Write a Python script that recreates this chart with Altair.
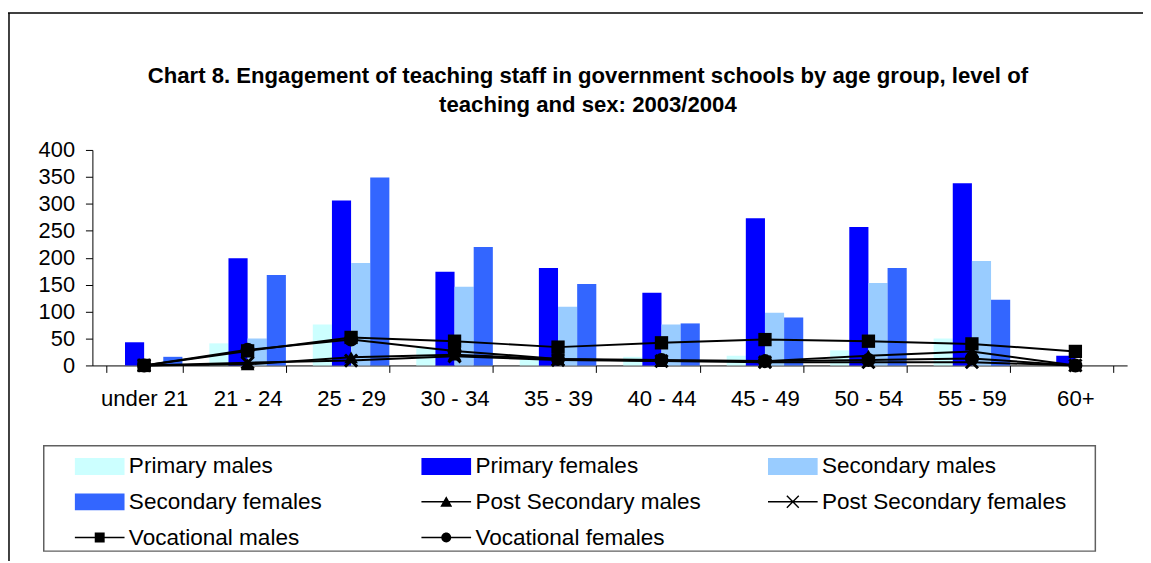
import altair as alt
import pandas as pd

categories = ["under 21", "21 - 24", "25 - 29", "30 - 34", "35 - 39",
              "40 - 44", "45 - 49", "50 - 54", "55 - 59", "60+"]

series_names = ["Primary males", "Primary females", "Secondary males",
                "Secondary females", "Post Secondary males",
                "Post Secondary females", "Vocational males",
                "Vocational females"]

primary_males = [0, 41, 76, 32, 10, 16, 18, 28, 50, 0]
primary_females = [43, 199, 306, 174, 181, 135, 273, 257, 338, 18]
secondary_males = [0, 50, 190, 146, 109, 76, 98, 153, 194, 0]
secondary_females = [16, 168, 349, 220, 151, 78, 89, 181, 122, 0]
post_secondary_males = [0, 2, 15, 20, 12, 8, 8, 18, 26, 0]
post_secondary_females = [0, 5, 9, 17, 10, 8, 6, 6, 6, 0]
vocational_males = [0, 27, 52, 45, 34, 42, 48, 45, 40, 26]
vocational_females = [0, 29, 48, 27, 12, 10, 8, 10, 13, 0]

title_lines = ["Chart 8. Engagement of teaching staff in government schools by age group, level of",
               "teaching and sex: 2003/2004"]

all_values = [primary_males, primary_females, secondary_males, secondary_females,
              post_secondary_males, post_secondary_females, vocational_males,
              vocational_females]

rows = []
for name, vals in zip(series_names, all_values):
    for cat, v in zip(categories, vals):
        rows.append({"age": cat, "series": name, "value": v})
df = pd.DataFrame(rows)

bar_series = series_names[:4]
line_series = series_names[4:]

FONT = "Liberation Sans"
colors = ["#CCFFFF", "#0000FF", "#99CCFF", "#3366FF",
          "#000000", "#000000", "#000000", "#000000"]
color_scale = alt.Scale(domain=series_names, range=colors)

# legend symbol shapes (filled paths; unit = half of sqrt(symbolSize))
swatch = "M-2.5,-0.85H2.5V0.85H-2.5Z"
line_seg = "M-2.5,-0.075H2.5V0.075H-2.5Z"
tri = line_seg + " M-0.6,0.5L0,-0.55L0.6,0.5Z"
xmark = (line_seg + " M-0.55,-0.65L0.65,0.55L0.55,0.65L-0.65,-0.55Z"
         " M-0.65,0.55L0.55,-0.65L0.65,-0.55L-0.55,0.65Z")
sq = line_seg + " M-0.5,-0.5H0.5V0.5H-0.5Z"
circ = line_seg + " M-0.5,0A0.5,0.5 0 1,1 0.5,0A0.5,0.5 0 1,1 -0.5,0Z"
legend_shapes = [swatch, swatch, swatch, swatch, tri, xmark, sq, circ]

x_enc = alt.X("age:N", sort=categories,
              scale=alt.Scale(domain=categories, paddingInner=0.26, paddingOuter=0.13),
              axis=alt.Axis(title=None, labelAngle=0, tickBand="extent", tickSize=7,
                            labelPadding=15, labelFontSize=22.3, labelFont=FONT,
                            labelColor="black", domainColor="black", tickColor="black",
                            grid=False))
y_enc = alt.Y("value:Q", scale=alt.Scale(domain=[0, 400], nice=False),
              axis=alt.Axis(title=None, values=list(range(0, 401, 50)), grid=False,
                            tickSize=7, labelPadding=11, labelFontSize=22,
                            labelFont=FONT, labelColor="black", domainColor="black",
                            tickColor="black"))

leg = dict(title=None, orient="none", legendX=-49, legendY=298, columns=3,
           direction="horizontal", gridAlign="all", columnPadding=26,
           rowPadding=12, padding=9, symbolSize=400, symbolOffset=36,
           labelOffset=18, labelFontSize=22.7, labelFont=FONT, labelColor="black",
           labelLimit=400, symbolStrokeWidth=0)

# empty layer that only carries the combined legend
legend_layer = alt.Chart(df).transform_filter("false").mark_point(
    filled=True, opacity=1
).encode(
    color=alt.Color("series:N", scale=color_scale, legend=alt.Legend(**leg)),
    shape=alt.Shape("series:N", scale=alt.Scale(domain=series_names, range=legend_shapes),
                    legend=alt.Legend(**leg)),
)

bars = alt.Chart(df).transform_filter(
    alt.FieldOneOfPredicate(field="series", oneOf=bar_series)
).mark_bar(strokeWidth=0).encode(
    x=x_enc,
    xOffset=alt.XOffset("series:N", sort=bar_series,
                        scale=alt.Scale(domain=bar_series, paddingInner=0, paddingOuter=0)),
    y=y_enc,
    color=alt.Color("series:N", scale=color_scale, legend=None),
)

lines = alt.Chart(df).transform_filter(
    alt.FieldOneOfPredicate(field="series", oneOf=line_series)
).mark_line(color="black", strokeWidth=2).encode(
    x=x_enc, y=y_enc, detail="series:N"
)


def pts(name, shape, filled, size, sw=0):
    return alt.Chart(df).transform_filter(alt.datum.series == name).mark_point(
        shape=shape, filled=filled, color="black", size=size, opacity=1, strokeWidth=sw
    ).encode(x=x_enc, y=y_enc)


p_tri = pts("Post Secondary males", "triangle-up", True, 190)
p_x = pts("Post Secondary females", "M-1,-1L1,1M-1,1L1,-1", False, 150, 3)
p_sq = pts("Vocational males", "square", True, 180)
p_ci = pts("Vocational females", "circle", True, 200)

one = pd.DataFrame({"k": [0]})
top_border = alt.Chart(one).mark_rule(color="black", strokeWidth=1.5).encode(
    x=alt.value(-85), x2=alt.value(1058), y=alt.value(-138))
left_border = alt.Chart(one).mark_rule(color="black", strokeWidth=1.5).encode(
    x=alt.value(-84), y=alt.value(-138), y2=alt.value(414))
legend_frame = alt.Chart(one).mark_rect(
    fillOpacity=0, stroke="#606060", strokeWidth=1.5
).encode(x=alt.value(-49), x2=alt.value(1010), y=alt.value(298), y2=alt.value(404))

chart = alt.layer(
    legend_layer, bars, lines, p_sq, p_ci, p_tri, p_x, top_border, left_border,
    legend_frame
).properties(
    width=1042, height=217,
    padding={"left": 85, "top": 141, "right": 16, "bottom": 197},
    autosize=alt.AutoSizeParams(type="none"),
    title=alt.TitleParams(text=title_lines, fontSize=22.3, fontWeight="bold", font=FONT,
                          anchor="middle", frame="group", offset=-105, lineHeight=29,
                          dx=-22, color="black"),
).configure_view(stroke=None)

chart.save("out.html", embed_options={"renderer": "svg", "actions": False})
